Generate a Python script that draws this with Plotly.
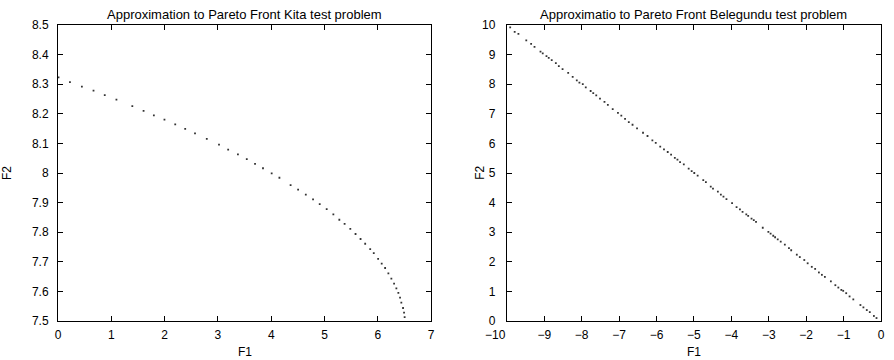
import plotly.graph_objects as go

# ---- Data: Kita test problem (left) ----
kita_f1 = [0.01, 0.224, 0.448, 0.666, 0.877, 1.096, 1.394, 1.605, 1.798, 1.997,
           2.199, 2.386, 2.570, 2.791, 3.020, 3.192, 3.375, 3.541, 3.696, 3.845,
           4.008, 4.153, 4.363, 4.504, 4.648, 4.784, 4.909, 5.040, 5.165, 5.277,
           5.376, 5.483, 5.581, 5.675, 5.762, 5.856, 5.923, 6.005, 6.072, 6.136,
           6.197, 6.253, 6.304, 6.347, 6.384, 6.416, 6.440, 6.472, 6.491, 6.502]
kita_f2 = [8.323, 8.307, 8.292, 8.278, 8.263, 8.248, 8.226, 8.210, 8.195, 8.180,
           8.164, 8.149, 8.134, 8.115, 8.096, 8.079, 8.063, 8.047, 8.031, 8.016,
           7.999, 7.984, 7.959, 7.944, 7.927, 7.911, 7.895, 7.878, 7.860, 7.842,
           7.828, 7.811, 7.794, 7.777, 7.761, 7.743, 7.729, 7.710, 7.694, 7.679,
           7.661, 7.643, 7.626, 7.610, 7.595, 7.579, 7.562, 7.544, 7.528, 7.513]

# ---- Data: Belegundu test problem (right) ----
bel_f1 = [-9.91, -9.79, -9.69, -9.48, -9.35, -9.26, -9.10, -9.04, -8.94, -8.88,
          -8.80, -8.69, -8.61, -8.51, -8.36, -8.24, -8.13, -8.06, -7.97, -7.89,
          -7.76, -7.69, -7.61, -7.51, -7.39, -7.30, -7.17, -7.03, -6.94, -6.84,
          -6.74, -6.64, -6.52, -6.36, -6.24, -6.11, -6.02, -5.90, -5.80, -5.70,
          -5.61, -5.51, -5.44, -5.37, -5.27, -5.14, -5.06, -4.99, -4.90, -4.75,
          -4.68, -4.55, -4.49, -4.36, -4.28, -4.21, -4.13, -3.98, -3.86, -3.77,
          -3.70, -3.60, -3.55, -3.46, -3.40, -3.34, -3.16, -3.01, -2.95, -2.88,
          -2.83, -2.76, -2.68, -2.57, -2.46, -2.40, -2.25, -2.17, -2.05, -1.96,
          -1.85, -1.76, -1.66, -1.58, -1.50, -1.34, -1.22, -1.14, -1.06, -1.01,
          -0.93, -0.84, -0.74, -0.55, -0.47, -0.38, -0.30, -0.19, -0.12]
bel_f2 = [9.92, 9.77, 9.70, 9.48, 9.36, 9.26, 9.10, 9.04, 8.95, 8.89,
          8.81, 8.71, 8.61, 8.51, 8.38, 8.25, 8.13, 8.05, 8.00, 7.89,
          7.77, 7.70, 7.62, 7.51, 7.40, 7.30, 7.16, 7.03, 6.94, 6.83,
          6.72, 6.63, 6.51, 6.36, 6.25, 6.10, 6.02, 5.89, 5.80, 5.71,
          5.62, 5.51, 5.45, 5.37, 5.29, 5.15, 5.06, 5.00, 4.91, 4.76,
          4.69, 4.54, 4.47, 4.37, 4.27, 4.20, 4.12, 3.98, 3.85, 3.77,
          3.69, 3.60, 3.55, 3.46, 3.41, 3.35, 3.15, 3.01, 2.95, 2.88,
          2.83, 2.76, 2.68, 2.58, 2.46, 2.39, 2.24, 2.16, 2.06, 1.95,
          1.83, 1.76, 1.64, 1.56, 1.49, 1.34, 1.21, 1.13, 1.05, 1.02,
          0.94, 0.83, 0.73, 0.54, 0.46, 0.37, 0.30, 0.17, 0.10]

# ---- Tick labels ----
kita_x_ticks = [0, 1, 2, 3, 4, 5, 6, 7]
kita_x_labels = ["0", "1", "2", "3", "4", "5", "6", "7"]
kita_y_ticks = [7.5, 7.6, 7.7, 7.8, 7.9, 8.0, 8.1, 8.2, 8.3, 8.4, 8.5]
kita_y_labels = ["7.5", "7.6", "7.7", "7.8", "7.9", "8", "8.1", "8.2", "8.3", "8.4", "8.5"]
bel_x_ticks = [-10, -9, -8, -7, -6, -5, -4, -3, -2, -1, 0]
bel_x_labels = ["\u221210" + "\u00a0" * 7, "\u22129", "\u22128", "\u22127", "\u22126",
                "\u22125", "\u22124", "\u22123", "\u22122", "\u22121", "0"]
bel_y_ticks = [0, 1, 2, 3, 4, 5, 6, 7, 8, 9, 10]
bel_y_labels = ["0", "1", "2", "3", "4", "5", "6", "7", "8", "9", "10"]

titles = ["Approximation to Pareto Front Kita test problem",
          "Approximatio to Pareto Front Belegundu test problem"]

FONT = "Liberation Sans, Arial, Helvetica, sans-serif"
DOT = "#333333"

fig = go.Figure()
fig.add_trace(go.Scatter(x=kita_f1, y=kita_f2, mode="markers", xaxis="x", yaxis="y",
                         marker=dict(size=1.8, color=DOT, symbol="square"),
                         showlegend=False, hoverinfo="skip"))
fig.add_trace(go.Scatter(x=bel_f1, y=bel_f2, mode="markers", xaxis="x2", yaxis="y2",
                         marker=dict(size=1.8, color=DOT, symbol="square"),
                         showlegend=False, hoverinfo="skip"))

axis_common = dict(showgrid=False, zeroline=False, showline=True, linecolor="black",
                   linewidth=1, mirror="ticks", ticks="inside", ticklen=5,
                   tickcolor="black", tickwidth=1,
                   tickfont=dict(family=FONT, size=12, color="black"))

L_dom = [0.0, 375 / 827]
R_dom = [451 / 827, 1.0]

fig.update_layout(
    width=894, height=360,
    margin=dict(l=58, r=9, t=25, b=39),
    paper_bgcolor="white", plot_bgcolor="white",
    xaxis=dict(domain=L_dom, range=[0, 7], tickvals=kita_x_ticks, ticktext=kita_x_labels,
               anchor="y", ticklabelstandoff=3, **axis_common),
    yaxis=dict(domain=[0, 1], range=[7.5, 8.5], tickvals=kita_y_ticks, ticktext=kita_y_labels,
               anchor="x", ticklabelstandoff=6, **axis_common),
    xaxis2=dict(domain=R_dom, range=[-10, 0], tickvals=bel_x_ticks, ticktext=bel_x_labels,
                anchor="y2", ticklabelstandoff=3, **axis_common),
    yaxis2=dict(domain=[0, 1], range=[0, 10], tickvals=bel_y_ticks, ticktext=bel_y_labels,
                anchor="x2", ticklabelstandoff=8, **axis_common),
)

ann = []
for i, (xr, t) in enumerate(zip(["x domain", "x2 domain"], titles)):
    ann.append(dict(text=t, xref=xr, yref="paper", x=0.5, y=1, xanchor="center",
                    yanchor="bottom", yshift=1, showarrow=False,
                    font=dict(family=FONT, size=13, color="black")))
    ann.append(dict(text="F1", xref=xr, yref="paper", x=0.5, y=0, xanchor="center",
                    yanchor="middle", yshift=-31, showarrow=False,
                    font=dict(family=FONT, size=12, color="black")))
ann.append(dict(text="F2", xref="x domain", yref="paper", x=0, y=0.5, xanchor="center",
                yanchor="middle", xshift=-51, textangle=-90, showarrow=False,
                font=dict(family=FONT, size=12, color="black")))
ann.append(dict(text="F2", xref="x2 domain", yref="paper", x=0, y=0.5, xanchor="center",
                yanchor="middle", xshift=-27, textangle=-90, showarrow=False,
                font=dict(family=FONT, size=12, color="black")))
fig.update_layout(annotations=ann)

fig.write_html("out.html")
